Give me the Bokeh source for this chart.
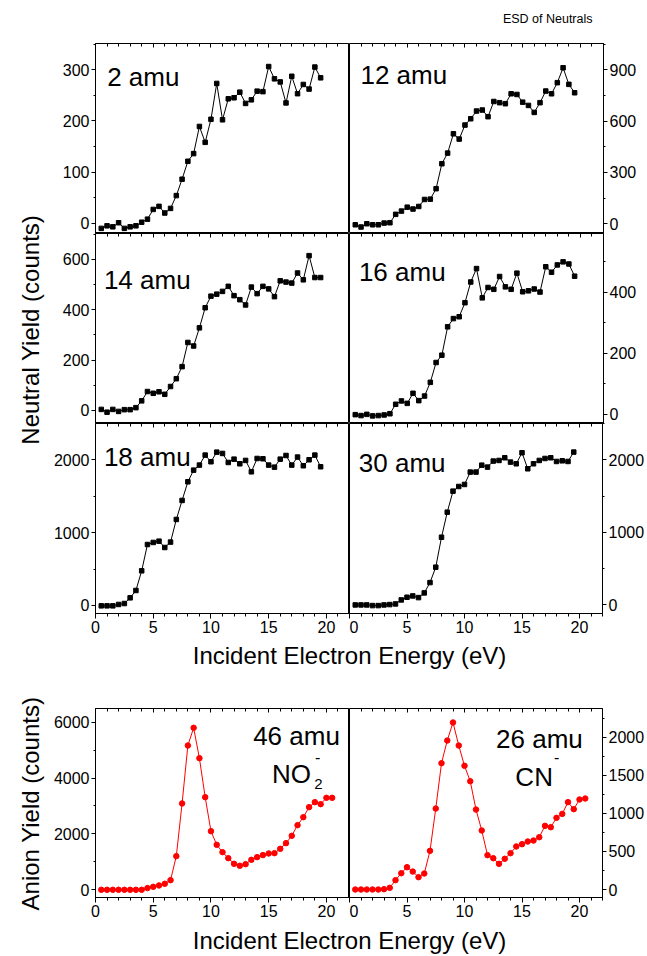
import math
from bokeh.plotting import figure
from bokeh.models import Range1d, LinearAxis, SingleIntervalTicker, Label, Grid
from bokeh.layouts import row, column
from bokeh.embed import file_html
from bokeh.resources import INLINE

FONT = "Liberation Sans"

# ---------------- data ----------------
energy_neutral = [0.5, 1.0, 1.5, 2.0, 2.5, 3.0, 3.5, 4.0, 4.5, 5.0, 5.5, 6.0, 6.5, 7.0,
                  7.5, 8.0, 8.5, 9.0, 9.5, 10.0, 10.5, 11.0, 11.5, 12.0, 12.5, 13.0,
                  13.5, 14.0, 14.5, 15.0, 15.5, 16.0, 16.5, 17.0, 17.5, 18.0, 18.5,
                  19.0, 19.5]
energy_anion = [0.5, 1.0, 1.5, 2.0, 2.5, 3.0, 3.5, 4.0, 4.5, 5.0, 5.5, 6.0, 6.5, 7.0,
                7.5, 8.0, 8.5, 9.0, 9.5, 10.0, 10.5, 11.0, 11.5, 12.0, 12.5, 13.0,
                13.5, 14.0, 14.5, 15.0, 15.5, 16.0, 16.5, 17.0, 17.5, 18.0, 18.5,
                19.0, 19.5, 20.0, 20.5]

yield_2amu = [-10, -5, -7, 1, -10, -7, -5, 2, 8, 27, 33, 20, 29, 54, 86, 121, 136, 189,
              158, 203, 273, 202, 243, 245, 256, 234, 241, 258, 257, 306, 282, 276, 235,
              287, 253, 271, 262, 305, 284]
yield_12amu = [-6, -19, 0, -6, -6, 4, 6, 55, 74, 97, 86, 101, 142, 144, 205, 351, 413,
               526, 495, 577, 614, 659, 665, 626, 715, 708, 702, 760, 756, 711, 692, 651,
               708, 776, 760, 825, 912, 815, 766]
yield_14amu = [4, -7, 4, -4, 3, 3, 11, 38, 75, 68, 74, 64, 95, 126, 174, 270, 256, 328,
               408, 454, 462, 473, 493, 456, 440, 419, 490, 464, 493, 483, 452, 515, 510,
               506, 546, 519, 615, 528, 528]
yield_16amu = [-1, -4, 0, -5, -4, -2, 2, 33, 44, 36, 69, 45, 60, 105, 170, 194, 287, 314,
               320, 366, 434, 478, 382, 416, 410, 452, 418, 410, 463, 402, 405, 411, 401,
               484, 466, 490, 500, 493, 453]
yield_18amu = [-5, -5, -5, 14, 27, 105, 206, 476, 837, 865, 883, 796, 870, 1181, 1442,
               1698, 1858, 1927, 2064, 1973, 2105, 2087, 1963, 2009, 1945, 1991, 1835,
               2018, 2014, 1927, 1899, 2009, 2059, 1927, 2037, 1918, 2000, 2064, 1904]
yield_30amu = [0, 0, 0, -9, -9, 0, 5, 14, 69, 106, 124, 101, 166, 308, 520, 933, 1278,
               1568, 1632, 1660, 1830, 1830, 1926, 1899, 1982, 1991, 2028, 1968, 1945,
               2097, 1876, 1945, 1991, 2018, 2028, 1977, 1986, 1977, 2106]
yield_46amu = [0, 0, 0, 0, 0, 0, 0, 0, 60, 107, 155, 215, 346, 1205, 3090, 5165, 5797,
               4712, 3316, 2099, 1610, 1348, 1133, 930, 859, 918, 1074, 1169, 1241, 1300,
               1312, 1467, 1670, 1932, 2314, 2600, 2958, 3137, 3066, 3292, 3292]
yield_26amu = [0, 0, 0, 0, 0, 4, 22, 123, 214, 293, 236, 162, 210, 508, 1063, 1659, 1956,
               2193, 1891, 1624, 1422, 1050, 775, 451, 411, 337, 403, 477, 565, 595, 630,
               643, 687, 836, 818, 941, 993, 1147, 1055, 1182, 1195]

title_text = "ESD of Neutrals"
neutral_ylabel = "Neutral Yield (counts)"
anion_ylabel = "Anion Yield (counts)"
xlabel = "Incident Electron Energy (eV)"

# ---------------- layout constants ----------------
LW = 47 + 254   # left column figure width
RW = 254 + 44   # right column figure width
ROW_H = 190


def style_axis(ax, labels=True):
    ax.axis_line_color = "black"
    ax.axis_line_width = 1
    ax.major_tick_line_color = "black"
    ax.minor_tick_line_color = "black"
    ax.major_label_text_font = FONT
    ax.major_label_text_font_size = "16px" if labels else "0px"
    ax.major_label_text_color = "black"
    ax.major_label_standoff = 2


def panel(xs, ys, yr, yint, side, bottom_axis, height, top_b, bot_b,
          color, marker, msize, labels):
    left = side == "left"
    p = figure(width=LW if left else RW, height=height,
               x_range=Range1d(0, 22), y_range=Range1d(yr[0], yr[1]),
               x_axis_location=None, y_axis_location=None,
               toolbar_location=None, output_backend="svg", title=None,
               min_border_left=47 if left else 0, min_border_right=0 if left else 44,
               min_border_top=top_b, min_border_bottom=bot_b)
    p.outline_line_color = "black"
    p.outline_line_width = 1
    p.background_fill_color = "white"
    p.border_fill_color = "white"

    yax = LinearAxis(ticker=SingleIntervalTicker(interval=yint, num_minor_ticks=2))
    style_axis(yax)
    yax.major_tick_out = 4
    yax.major_tick_in = 0
    yax.minor_tick_out = 2
    yax.minor_tick_in = 0
    p.add_layout(yax, side)

    top = LinearAxis(ticker=SingleIntervalTicker(interval=5, num_minor_ticks=5),
                     fixed_location=yr[1])
    style_axis(top, labels=False)
    top.major_label_text_color = None
    top.major_tick_out = 0
    top.major_tick_in = 4
    top.minor_tick_out = 0
    top.minor_tick_in = 3
    p.add_layout(top, "above")

    if bottom_axis:
        xax = LinearAxis(ticker=SingleIntervalTicker(interval=5, num_minor_ticks=5))
        style_axis(xax)
        xax.major_tick_out = 5
        xax.major_tick_in = 0
        xax.minor_tick_out = 3
        xax.minor_tick_in = 0
        p.add_layout(xax, "below")

    for r in p.select(type=Grid):
        r.visible = False

    p.line(xs, ys, line_color=color, line_width=1)
    p.scatter(xs, ys, marker=marker, size=msize, fill_color=color, line_color=color)

    for (txt, fx, fy, size, align, baseline) in labels:
        p.add_layout(Label(x=0 + fx * 22, y=yr[0] + fy * (yr[1] - yr[0]), text=txt,
                           text_font=FONT, text_font_size=size, text_color="black",
                           text_align=align, text_baseline=baseline))
    return p


def strip(w, h, texts):
    p = figure(width=w, height=h, x_range=Range1d(0, 1), y_range=Range1d(0, 1),
               x_axis_location=None, y_axis_location=None, toolbar_location=None,
               output_backend="svg", title=None, min_border=0,
               min_border_left=0, min_border_right=0, min_border_top=0, min_border_bottom=0)
    p.outline_line_color = None
    for r in p.select(type=Grid):
        r.visible = False
    for (txt, fx, fy, size, align, angle) in texts:
        p.add_layout(Label(x=fx, y=fy, text=txt, text_font=FONT, text_font_size=size,
                           text_color="black", text_align=align, text_baseline="middle",
                           angle=angle))
    return p


BIG = "26px"
SQ = dict(color="black", marker="square", msize=4.5)
RD = dict(color="red", marker="circle", msize=5.5)

f2 = panel(energy_neutral, yield_2amu, (-20, 351), 100, "left", False, ROW_H, 0, 0,
           labels=[("2 amu", 0.046, 0.823, BIG, "left", "alphabetic")], **SQ)
f12 = panel(energy_neutral, yield_12amu, (-57, 1054), 300, "right", False, ROW_H, 0, 0,
            labels=[("12 amu", 0.043, 0.832, BIG, "left", "alphabetic")], **SQ)
f14 = panel(energy_neutral, yield_14amu, (-52, 703), 200, "left", False, ROW_H, 0, 0,
            labels=[("14 amu", 0.033, 0.753, BIG, "left", "alphabetic")], **SQ)
f16 = panel(energy_neutral, yield_16amu, (-30, 593), 200, "right", False, ROW_H, 0, 0,
            labels=[("16 amu", 0.037, 0.80, BIG, "left", "alphabetic")], **SQ)
f18 = panel(energy_neutral, yield_18amu, (-110, 2498), 1000, "left", True, ROW_H + 30, 0, 30,
            labels=[("18 amu", 0.033, 0.826, BIG, "left", "alphabetic")], **SQ)
f30 = panel(energy_neutral, yield_30amu, (-118, 2500), 1000, "right", True, ROW_H + 30, 0, 30,
            labels=[("30 amu", 0.037, 0.791, BIG, "left", "alphabetic")], **SQ)

f46 = panel(energy_anion, yield_46amu, (-276, 6490), 2000, "left", True, 252, 35, 28,
            labels=[("46 amu", 0.962, 0.857, BIG, "right", "alphabetic"),
                     ("NO", 0.848, 0.654, BIG, "right", "alphabetic"),
                     ("2", 0.861, 0.603, "15px", "left", "alphabetic"),
                     ("-", 0.864, 0.744, "16px", "left", "middle")], **RD)
f26 = panel(energy_anion, yield_26amu, (-105, 2377), 500, "right", True, 252, 35, 28,
            labels=[("26 amu", 0.922, 0.84, BIG, "right", "alphabetic"),
                     ("CN", 0.804, 0.64, BIG, "right", "alphabetic"),
                     ("-", 0.808, 0.742, "16px", "left", "middle")], **RD)

header = strip(647, 43, [(title_text, 0.915, 0.58, "12.5px", "right", 0)])
ystrip_top = strip(48, 600, [(neutral_ylabel, 0.625, 0.523, "24px", "center", math.pi / 2)])
xstrip_top = strip(647, 30, [(xlabel, 0.5394, 0.6, "24px", "center", 0)])
ystrip_bot = strip(48, 252, [(anion_ylabel, 0.625, 0.484, "24px", "center", math.pi / 2)])
xstrip_bot = strip(647, 31, [(xlabel, 0.5394, 0.516, "24px", "center", 0)])

layout = column(
    header,
    row(ystrip_top, column(row(f2, f12), row(f14, f16), row(f18, f30))),
    xstrip_top,
    row(ystrip_bot, row(f46, f26)),
    xstrip_bot,
)

open("out.html", "w").write(file_html(layout, INLINE))
